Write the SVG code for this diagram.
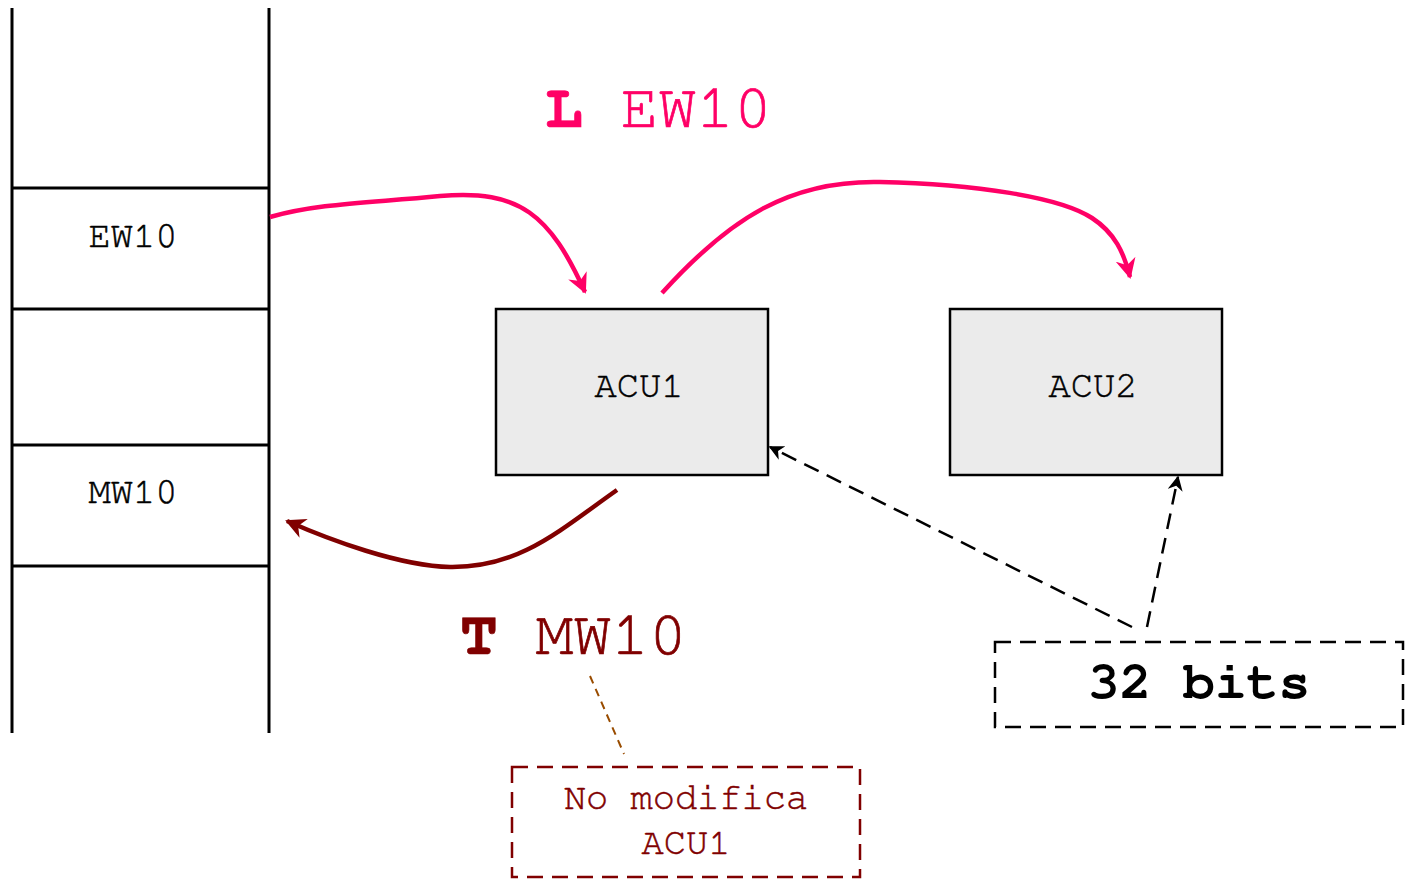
<svg xmlns="http://www.w3.org/2000/svg" width="1406" height="879" viewBox="0 0 1406 879">
  <defs>
    <style>
      .mono { font-family: "Nimbus Mono PS", "Nimbus Mono L", "FreeMono", "Courier New", "Liberation Mono", monospace; }
      .cell { font-size: 37px; fill: #000; stroke: #000; stroke-width: 0.5; text-anchor: middle; }
      .acu { fill: #EBEBEB; stroke: #000; stroke-width: 2.5; }
      .grid { stroke: #000; stroke-width: 3; fill: none; }
      .load { stroke: #FF0066; stroke-width: 4.5; fill: none; }
      .store { stroke: #800000; stroke-width: 4.5; fill: none; }
      .hint { stroke: #000; stroke-width: 2.5; fill: none; stroke-dasharray: 16 9; }
    </style>
    <marker id="arrPink" viewBox="0 0 10 10" refX="9" refY="5" markerWidth="4.5" markerHeight="4.5" orient="auto" markerUnits="strokeWidth">
      <path d="M0,0 L10,5 L0,10 L3,5 Z" fill="#FF0066"/>
    </marker>
    <marker id="arrRed" viewBox="0 0 10 10" refX="9" refY="5" markerWidth="4.5" markerHeight="4.5" orient="auto" markerUnits="strokeWidth">
      <path d="M0,0 L10,5 L0,10 L3,5 Z" fill="#800000"/>
    </marker>
    <marker id="arrBlack" viewBox="0 0 10 10" refX="9" refY="5" markerWidth="6" markerHeight="6" orient="auto" markerUnits="strokeWidth">
      <path d="M0,0 L10,5 L0,10 L3,5 Z" fill="#000"/>
    </marker>
  </defs>
  <rect width="1406" height="879" fill="#fff"/>

  <!-- memory column -->
  <g id="memory">
    <line class="grid" x1="12" y1="8" x2="12" y2="733"/>
    <line class="grid" x1="269" y1="8" x2="269" y2="733"/>
    <line class="grid" x1="12" y1="188" x2="269" y2="188"/>
    <line class="grid" x1="12" y1="309" x2="269" y2="309"/>
    <line class="grid" x1="12" y1="445" x2="269" y2="445"/>
    <line class="grid" x1="12" y1="566" x2="269" y2="566"/>
  </g>
  <g id="cell-ew10">
    <text class="mono cell" x="133" y="247">EW10</text>
  </g>
  <g id="cell-mw10">
    <text class="mono cell" x="133" y="503">MW10</text>
  </g>

  <!-- accumulators -->
  <g id="acu1">
    <rect class="acu" x="496" y="309" width="272" height="166"/>
    <text class="mono cell" x="639" y="397">ACU1</text>
  </g>
  <g id="acu2">
    <rect class="acu" x="950" y="309" width="272" height="166"/>
    <text class="mono cell" x="1093" y="397">ACU2</text>
  </g>

  <!-- instruction labels -->
  <g id="label-load">
    <text class="mono" x="545" y="127" font-size="63" fill="#FF0066" stroke="#FF0066" stroke-width="0.7"><tspan font-weight="bold">L</tspan> EW10</text>
  </g>
  <g id="label-store">
    <text class="mono" x="460" y="654" font-size="63" fill="#800000" stroke="#800000" stroke-width="0.7"><tspan font-weight="bold">T</tspan> MW10</text>
  </g>

  <!-- notes -->
  <g id="note-bits">
    <rect x="995" y="642" width="408" height="85" fill="none" stroke="#000" stroke-width="2.5" stroke-dasharray="16 9"/>
    <text class="mono" x="1199" y="698" font-size="53" font-weight="bold" text-anchor="middle" fill="#000">32 bits</text>
  </g>
  <g id="note-acu1">
    <rect x="512" y="767" width="348" height="110" fill="none" stroke="#800000" stroke-width="2.5" stroke-dasharray="16 9"/>
    <text class="mono" x="686" y="809" font-size="37" text-anchor="middle" fill="#800000" stroke="#800000" stroke-width="0.5">No modifica</text>
    <text class="mono" x="686" y="854" font-size="37" text-anchor="middle" fill="#800000" stroke="#800000" stroke-width="0.5">ACU1</text>
  </g>

  <!-- connectors -->
  <g id="connectors">
    <path class="load" d="M 270 217 C 320 203, 370 203, 440 196 C 520 189, 550 215, 585 292" marker-end="url(#arrPink)"/>
    <path class="load" d="M 662 293 C 730 218, 790 180, 880 182 C 975 184, 1060 197, 1092 218 C 1115 233, 1124 253, 1130 277" marker-end="url(#arrPink)"/>
    <path class="store" d="M 617 490 C 560 530, 520 568, 450 567 C 400 566, 330 540, 287 521" marker-end="url(#arrRed)"/>
    <path class="hint" d="M 1132 627 L 770 447" marker-end="url(#arrBlack)"/>
    <path class="hint" d="M 1147 627 L 1178 477" marker-end="url(#arrBlack)"/>
    <path d="M 590 676 L 624 754" fill="none" stroke="#994C00" stroke-width="2" stroke-dasharray="8 6"/>
  </g>
</svg>
